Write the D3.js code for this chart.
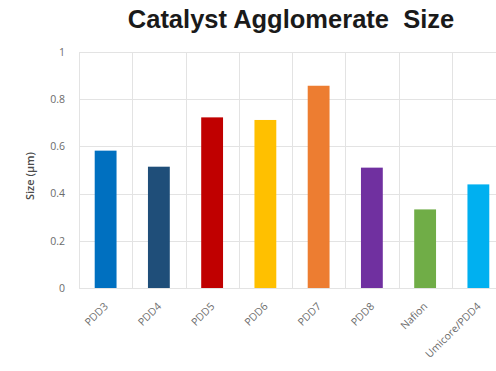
<!DOCTYPE html>
<html>
<head>
<meta charset="utf-8">
<script src="https://cdn.jsdelivr.net/npm/d3@7/dist/d3.min.js"></script>
<style>
  html, body { margin: 0; padding: 0; background: #ffffff; }
  svg { display: block; }
</style>
</head>
<body>
<svg id="chart" width="496" height="371"></svg>
<script>
// Agglomerate size per catalyst sample
const categories = ["PDD3", "PDD4", "PDD5", "PDD6", "PDD7", "PDD8", "Nafion", "Umicore/PDD4"];
const sizes = [0.582, 0.514, 0.723, 0.712, 0.857, 0.510, 0.333, 0.439];
const barColors = ["#0070C0", "#1F4E79", "#C00000", "#FFC000", "#ED7D31", "#7030A0", "#70AD47", "#00B0F0"];
const yTicks = [0, 0.2, 0.4, 0.6, 0.8, 1];
const yTickLabels = ["0", "0.2", "0.4", "0.6", "0.8", "1"];

const svg = d3.select("#chart");
const plot = { left: 79, right: 505, top: 52, bottom: 288 };

const x = d3.scaleBand().domain(categories).range([plot.left, plot.right]).padding(0);
const y = d3.scaleLinear().domain([0, 1]).range([plot.bottom, plot.top]);
const barW = x.bandwidth() * 0.41;

// Title
svg.append("text")
  .attr("x", 291).attr("y", 28)
  .attr("text-anchor", "middle")
  .attr("font-family", "'Liberation Sans', Arial, sans-serif")
  .attr("font-weight", "bold")
  .attr("font-size", 25.5)
  .style("white-space", "pre")
  .attr("fill", "#1a1a1a")
  .text("Catalyst Agglomerate  Size");

// Gridlines
const grid = svg.append("g").attr("stroke", "#e3e3e3").attr("stroke-width", 1);
grid.selectAll("line.h").data(yTicks).join("line")
  .attr("class", "h")
  .attr("x1", plot.left).attr("x2", plot.right)
  .attr("y1", d => Math.round(y(d)) + 0.5).attr("y2", d => Math.round(y(d)) + 0.5);
const bounds = categories.map(c => x(c)).concat([plot.right]);
grid.selectAll("line.v").data(bounds).join("line")
  .attr("class", "v")
  .attr("x1", d => Math.round(d) + 0.5).attr("x2", d => Math.round(d) + 0.5)
  .attr("y1", plot.top).attr("y2", plot.bottom);

// Bars
svg.append("g").selectAll("rect").data(categories).join("rect")
  .attr("x", c => x(c) + (x.bandwidth() - barW) / 2)
  .attr("width", barW)
  .attr("y", (c, i) => y(sizes[i]))
  .attr("height", (c, i) => plot.bottom - y(sizes[i]))
  .attr("fill", (c, i) => barColors[i]);

// Y axis
const yAxis = d3.axisLeft(y).tickValues(yTicks)
  .tickFormat((d, i) => yTickLabels[i]).tickSize(0).tickPadding(14);
const yg = svg.append("g").attr("transform", `translate(${plot.left},0)`).call(yAxis);
yg.select(".domain").remove();
yg.selectAll("text")
  .attr("font-family", "'Open Sans', 'DejaVu Sans', sans-serif")
  .attr("font-size", 10.5)
  .attr("fill", "#6b6b6b");

// Y axis title
svg.append("text")
  .attr("transform", "translate(34,176) rotate(-90)")
  .attr("text-anchor", "middle")
  .attr("font-family", "'Open Sans', 'DejaVu Sans', sans-serif")
  .attr("font-weight", "600")
  .attr("font-size", 11)
  .attr("fill", "#4a4a4a")
  .text("Size (μm)");

// X axis labels, rotated
const xAxis = d3.axisBottom(x).tickSize(0).tickPadding(0);
const xg = svg.append("g").attr("transform", `translate(0,${plot.bottom})`).call(xAxis);
xg.select(".domain").remove();
xg.selectAll("text")
  .attr("font-family", "'Open Sans', 'DejaVu Sans', sans-serif")
  .attr("font-size", 10.5)
  .attr("fill", "#6b6b6b")
  .attr("text-anchor", "end")
  .attr("dy", 0)
  .attr("transform", "translate(3,19) rotate(-45)");
</script>
</body>
</html>
